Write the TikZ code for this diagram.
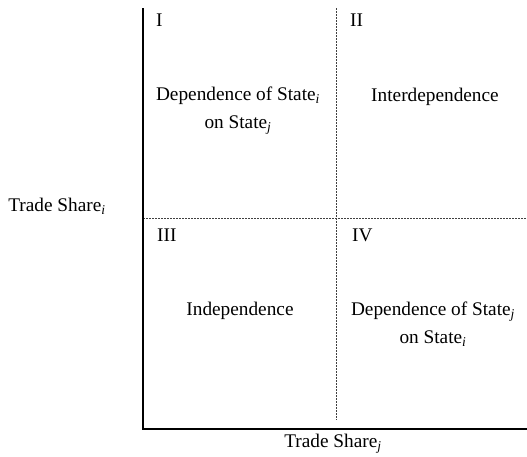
\documentclass[tikz,border=0pt]{standalone}
\usepackage{fontspec}
\setmainfont{Liberation Serif}
\newcommand\tsub[1]{\textsubscript{\itshape #1}}
\begin{document}
\begin{tikzpicture}[x=1pt,y=-1pt,
  lbl/.style={font=\fontsize{19.3}{28}\selectfont, inner sep=0pt, align=center},
  axisline/.style={line width=1.3pt, black},
  divider/.style={line width=0.7pt, black!75, dash pattern=on 2pt off 1pt}]
\useasboundingbox (0,0) rectangle (527,456);
\coordinate (top) at (143,8);
\coordinate (O) at (143,429);
\coordinate (right) at (527,429);
\coordinate (mt) at (336.5,8);
\coordinate (mb) at (336.5,420);
\coordinate (ml) at (143,218);
\coordinate (mr) at (527,218);
\draw[divider] (mt) -- (mb);
\draw[divider] (ml) -- (mr);
\draw[axisline] (top) -- (O) -- (right);
\node[lbl, anchor=base west] (q1) at (156,26) {I};
\node[lbl, anchor=base west] (q2) at (350,26) {II};
\node[lbl, anchor=base west] (q3) at (157,241) {III};
\node[lbl, anchor=base west] (q4) at (352,241) {IV};
\node[lbl, anchor=base] (t1) at (238,128) {Dependence of State\tsub{i}\\on State\tsub{j}};
\node[lbl, anchor=base] (t2) at (435,101) {Interdependence};
\node[lbl, anchor=base] (t3) at (240,315) {Independence};
\node[lbl, anchor=base] (t4) at (433,343) {Dependence of State\tsub{j}\\on State\tsub{i}};
\node[lbl, anchor=base] (yl) at (57,211) {Trade Share\tsub{i}};
\node[lbl, anchor=base] (xl) at (333,447) {Trade Share\tsub{j}};
\end{tikzpicture}
\end{document}
